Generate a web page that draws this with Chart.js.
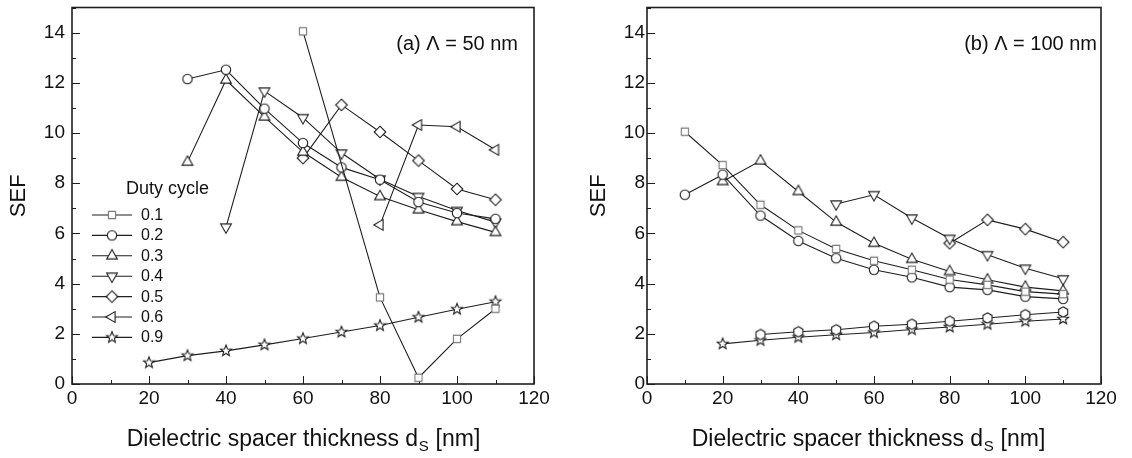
<!DOCTYPE html>
<html><head><meta charset="utf-8">
<script src="https://cdn.jsdelivr.net/npm/chart.js@4.4.1/dist/chart.umd.min.js"></script>
<style>
html,body{margin:0;padding:0;background:#fff;width:1132px;height:458px;overflow:hidden}
.p{position:absolute;top:0;width:566px;height:458px}
</style></head><body>
<div class="p" style="left:0"><canvas id="ca" width="566" height="458"></canvas></div>
<div class="p" style="left:566px"><canvas id="cb" width="566" height="458"></canvas></div>
<script>
// ---- data ----
const thickness = [10,20,30,40,50,60,70,80,90,100,110];
const xTicks = [0,20,40,60,80,100,120];
const yTicks = [0,2,4,6,8,10,12,14];
const dutyLabels = ['0.1','0.2','0.3','0.4','0.5','0.6','0.9'];

// panel (a)  Λ = 50 nm
const a01 = [null,null,null,null,null,14.05,null,3.45,0.25,1.80,3.00];
const a02 = [null,null,12.15,12.52,10.97,9.60,8.63,8.14,7.25,6.81,6.58];
const a03 = [null,null,8.84,12.11,10.64,9.24,8.24,7.47,6.94,6.47,6.04];
const a04 = [null,null,null,6.25,11.67,10.61,9.20,8.16,7.47,6.91,6.45];
const a05 = [null,null,null,null,null,9.00,11.12,10.04,8.90,7.77,7.34];
const a06 = [null,null,null,null,null,null,null,6.34,10.32,10.25,9.33];
const a09 = [null,0.85,1.13,1.32,1.56,1.81,2.07,2.33,2.66,2.98,3.28];

// panel (b)  Λ = 100 nm
const b01 = [10.05,8.72,7.14,6.12,5.38,4.91,4.55,4.16,3.95,3.68,3.58];
const b02 = [7.54,8.34,6.71,5.70,5.01,4.55,4.25,3.86,3.75,3.48,3.39];
const b03 = [null,8.07,8.89,7.67,6.45,5.61,4.97,4.48,4.15,3.86,3.71];
const b04 = [null,null,null,null,7.17,7.54,6.61,5.80,5.15,4.61,4.19];
const b05 = [null,null,null,null,null,null,null,5.61,6.54,6.17,5.65];
const b08 = [null,null,1.97,2.08,2.16,2.30,2.38,2.50,2.63,2.76,2.87];
const b09 = [null,1.60,1.74,1.86,1.96,2.05,2.17,2.27,2.38,2.50,2.59];

// ---- markers ----
const INK = '#1e1e1e';
function poly(g, n, r, startDeg, rInner){
  const pts = rInner ? n*2 : n;
  for(let i=0;i<pts;i++){
    const a = (startDeg + i*360/pts)*Math.PI/180;
    const rr = rInner ? (i%2 ? rInner : r) : r;
    const x = Math.cos(a)*rr, y = Math.sin(a)*rr;
    i ? g.lineTo(x,y) : g.moveTo(x,y);
  }
  g.closePath();
}
function marker(shape, color){
  const s = 18, c = document.createElement('canvas');
  c.width = s; c.height = s;
  const g = c.getContext('2d');
  g.translate(s/2, s/2);
  g.lineWidth = 1.1; g.strokeStyle = color; g.fillStyle = '#fff';
  g.beginPath();
  switch(shape){
    case 'square': g.rect(-3.6,-3.6,7.2,7.2); break;
    case 'circle': g.arc(0,0,4.7,0,Math.PI*2); break;
    case 'up': poly(g,3,6.2,-90); break;
    case 'down': poly(g,3,6.2,90); break;
    case 'left': poly(g,3,6.2,180); break;
    case 'diamond': poly(g,4,5.8,-90); break;
    case 'hex': poly(g,6,5.2,-90); break;
    case 'star': poly(g,5,5.8,-90,2.5); break;
  }
  g.fill(); g.stroke();
  return c;
}
const M = {
  square: marker('square','#7a7a7a'), circle: marker('circle',INK), up: marker('up',INK),
  down: marker('down',INK), diamond: marker('diamond',INK), left: marker('left',INK),
  hex: marker('hex',INK), star: marker('star',INK)
};

function toPoints(vals){
  return thickness.map((x,i)=> vals[i]==null ? null : {x:x, y:vals[i]}).filter(Boolean);
}
function ds(label, vals, mk){
  return {label, data: toPoints(vals), borderColor: INK, borderWidth: 1.1,
    pointStyle: mk, pointRadius: 5, pointHoverRadius: 5, tension: 0, fill: false};
}

const FONT = "'Liberation Sans', Arial, Helvetica, sans-serif";

function makeChart(id, cfg){
  const deco = {
    id: 'deco_'+id,
    beforeDatasetsDraw(chart){
      const {ctx, chartArea: ca, scales:{x, y}} = chart;
      ctx.save();
      ctx.strokeStyle = INK; ctx.lineWidth = 1;
      ctx.beginPath();
      for(let v=0; v<=120; v+=10){
        const px = Math.round(x.getPixelForValue(v))+0.5;
        const len = v%20===0 ? 8 : 4;
        ctx.moveTo(px, ca.bottom); ctx.lineTo(px, ca.bottom-len);
      }
      for(let v=0; v<=15; v+=1){
        const py = Math.round(y.getPixelForValue(v))+0.5;
        const len = v%2===0 ? 8 : 4;
        ctx.moveTo(ca.left, py); ctx.lineTo(ca.left+len, py);
      }
      ctx.stroke();
      ctx.lineWidth = 1.6;
      ctx.strokeRect(ca.left, ca.top, ca.right-ca.left, ca.bottom-ca.top);
      ctx.restore();
    },
    afterDraw(chart){
      const {ctx, chartArea: ca} = chart;
      ctx.save();
      ctx.fillStyle = '#111';
      // panel annotation
      ctx.font = '20px ' + FONT;
      ctx.textAlign = 'right'; ctx.textBaseline = 'middle';
      ctx.fillText(cfg.note, ca.right - cfg.noteRight, 44);
      // x axis title with subscript
      const f1 = '23px ' + FONT, f2 = '15px ' + FONT;
      const t1 = 'Dielectric spacer thickness d', t2 = 'S', t3 = ' [nm]';
      ctx.font = f1; const w1 = ctx.measureText(t1).width, w3 = ctx.measureText(t3).width;
      ctx.font = f2; const w2 = ctx.measureText(t2).width;
      let x0 = (ca.left + ca.right)/2 + cfg.titleShift - (w1+w2+w3)/2;
      const yb = cfg.titleY;
      ctx.textAlign = 'left'; ctx.textBaseline = 'alphabetic';
      ctx.font = f1; ctx.fillText(t1, x0, yb); x0 += w1;
      ctx.font = f2; ctx.fillText(t2, x0+0.5, yb+5); x0 += w2+1;
      ctx.font = f1; ctx.fillText(t3, x0, yb);
      // legend
      if(cfg.legend){
        const L = cfg.legend;
        ctx.font = '18px ' + FONT; ctx.textBaseline = 'middle';
        ctx.fillText('Duty cycle', L.titleX, L.titleY);
        ctx.font = '16px ' + FONT;
        chart.data.datasets.forEach((d,i)=>{
          const yy = L.y0 + i*L.dy;
          ctx.strokeStyle = INK; ctx.lineWidth = 1.1;
          ctx.beginPath(); ctx.moveTo(L.x1, yy); ctx.lineTo(L.x2, yy); ctx.stroke();
          const img = d.pointStyle;
          ctx.drawImage(img, (L.x1+L.x2)/2 - img.width/2, yy - img.height/2);
          ctx.fillText(d.label, L.textX, yy+0.5);
        });
      }
      ctx.restore();
    }
  };
  return new Chart(document.getElementById(id), {
    type: 'line',
    data: { datasets: cfg.datasets },
    options: {
      responsive: false, animation: false, devicePixelRatio: 1,
      layout: { padding: { left: 0, right: cfg.padRight, top: 7.5, bottom: 0 } },
      plugins: { legend: { display: false }, tooltip: { enabled: false } },
      scales: {
        x: {
          type: 'linear', min: 0, max: 120,
          afterBuildTicks(s){ s.ticks = xTicks.map(v=>({value:v})); },
          ticks: { font: { size: 19, family: FONT }, color: '#111', padding: 3, maxRotation: 0 },
          grid: { display: false, drawTicks: false }, border: { display: false },
          afterFit(s){ s.height = 74; s.paddingLeft = 0; s.paddingRight = 0; }
        },
        y: {
          type: 'linear', min: 0, max: 15,
          afterBuildTicks(s){ s.ticks = yTicks.map(v=>({value:v})); },
          ticks: { font: { size: 19, family: FONT }, color: '#111', padding: cfg.yPad },
          grid: { display: false, drawTicks: false }, border: { display: false },
          title: { display: true, text: 'SEF', font: { size: 22, family: FONT }, color: '#111',
                   padding: { top: cfg.yTitlePad, bottom: 0 } },
          afterFit(s){ s.width = cfg.yWidth; s.paddingTop = 0; s.paddingBottom = 0; }
        }
      }
    },
    plugins: [deco]
  });
}

makeChart('ca', {
  datasets: [
    ds(dutyLabels[0], a01, M.square), ds(dutyLabels[1], a02, M.circle), ds(dutyLabels[2], a03, M.up),
    ds(dutyLabels[3], a04, M.down), ds(dutyLabels[4], a05, M.diamond), ds(dutyLabels[5], a06, M.left),
    ds(dutyLabels[6], a09, M.star)
  ],
  padRight: 32, yWidth: 72, yPad: 7, yTitlePad: 6,
  note: '(a) \u039B = 50 nm', noteRight: 16, titleShift: 0, titleY: 446,
  legend: { titleX: 126, titleY: 189, x1: 92, x2: 132, textX: 141, y0: 215, dy: 20.4 }
});
makeChart('cb', {
  datasets: [
    ds('0.1', b01, M.square), ds('0.2', b02, M.circle), ds('0.3', b03, M.up),
    ds('0.4', b04, M.down), ds('0.5', b05, M.diamond), ds('0.8', b08, M.hex),
    ds('0.9', b09, M.star)
  ],
  padRight: 31, yWidth: 81, yPad: 2, yTitlePad: 20,
  note: '(b) \u039B = 100 nm', noteRight: 4, titleShift: -6, titleY: 446,
  legend: null
});
</script>
</body></html>
